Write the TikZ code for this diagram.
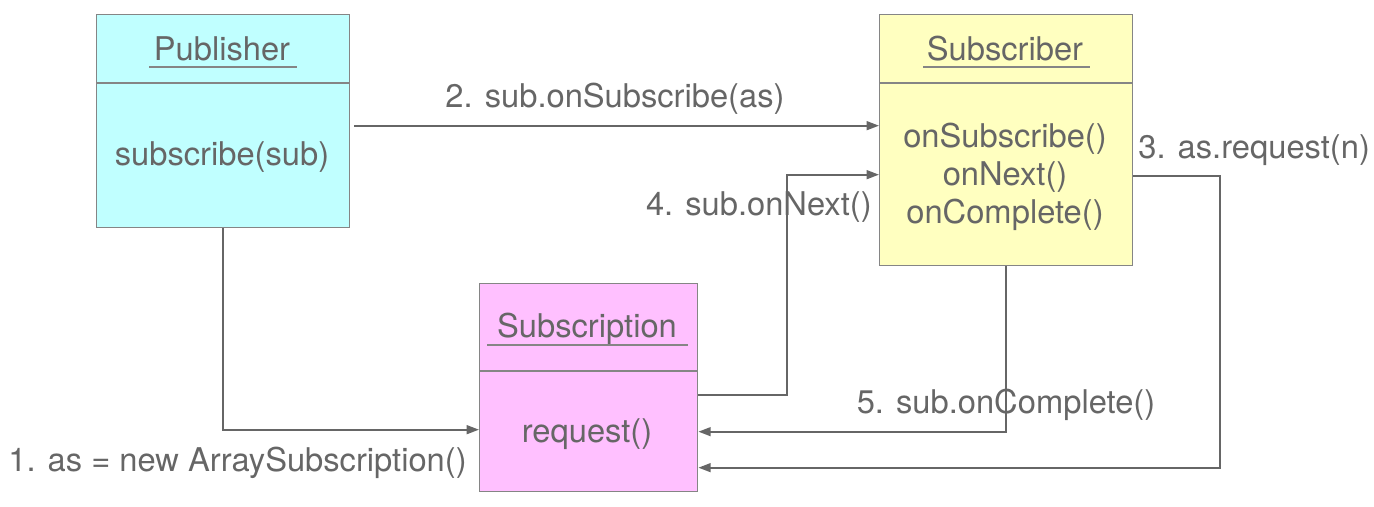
\documentclass[tikz,border=0pt]{standalone}
\usepackage{fontspec}
\setmainfont{TeX Gyre Heros}
\usetikzlibrary{arrows.meta,positioning,calc}
\definecolor{txtgray}{HTML}{666666}
\definecolor{boxgray}{HTML}{858585}
\definecolor{pubcyan}{HTML}{C0FFFF}
\definecolor{subyellow}{HTML}{FFFFC0}
\definecolor{snpink}{HTML}{FFC0FF}
\tikzset{
  cls/.style={draw=boxgray, line width=0.8pt, inner sep=0pt, anchor=north west},
  lbl/.style={text=txtgray, font=\fontsize{18.6}{22}\selectfont, inner sep=0pt},
  rule/.style={draw=boxgray, line width=0.8pt},
  call/.style={draw=txtgray, line width=1.1pt, -{Triangle[length=7pt,width=5pt]}},
}

\begin{document}
\begin{tikzpicture}[x=0.02cm,y=-0.02cm]
\useasboundingbox (0,0) rectangle (1374,507);
% classes
\node (pub) [cls, fill=pubcyan, minimum width=5.06cm, minimum height=4.26cm] at (96,14) {};
\node (sub) [cls, fill=subyellow, minimum width=5.06cm, minimum height=5.02cm] at (879,14) {};
\node (subn) [cls, fill=snpink, minimum width=4.36cm, minimum height=4.16cm] at (479,283) {};
\draw[rule] (96,83) -- (349,83);
\draw[rule] (879,83) -- (1132,83);
\draw[rule] (479,371) -- (697,371);
% titles
\node (pubT) [lbl, anchor=base] at (222,60) {Publisher};
\node (subT) [lbl, anchor=base] at (1005,60) {Subscriber};
\node (subnT) [lbl, anchor=base] at (587,337) {Subscription};
\draw[rule] (149,67) -- (297,67);
\draw[rule] (923,67) -- (1090,67);
\draw[rule] (487,345) -- (688,345);
% methods
\node (pubM) [lbl, anchor=base] at (222,165) {subscribe(sub)};
\node (subM1) [lbl, anchor=base] at (1005,147) {onSubscribe()};
\node (subM2) [lbl, anchor=base] at (1005,185) {onNext()};
\node (subM3) [lbl, anchor=base] at (1005,223) {onComplete()};
\node (subnM) [lbl, anchor=base] at (587,442) {request()};
% calls
\draw[call] (pub.south) |- ([yshift=-0.84cm]subn.west);
\draw[call] ([xshift=0.08cm,yshift=-0.09cm]pub.east) -- ([yshift=-0.09cm]pub.east -| sub.west);
\draw[call] ([yshift=-0.71cm]sub.east) -- ++(87,0) |- ([yshift=-1.6cm]subn.east);
\draw[call] ([yshift=-0.14cm]subn.east) -- ++(89,0) |- ([yshift=-0.69cm]sub.west);
\draw[call] (sub.south) |- ([yshift=-0.88cm]subn.east);
% labels
\node (c1) [lbl, anchor=base east] at (467,471) {1. as = new ArraySubscription()};
\node (c2) [lbl, anchor=base] at (615,107) {2. sub.onSubscribe(as)};
\node (c3) [lbl, anchor=base west] at (1138,158) {3. as.request(n)};
\node (c4) [lbl, anchor=base east] at (872,215) {4. sub.onNext()};
\node (c5) [lbl, anchor=base] at (1006,413) {5. sub.onComplete()};
\end{tikzpicture}
\end{document}
